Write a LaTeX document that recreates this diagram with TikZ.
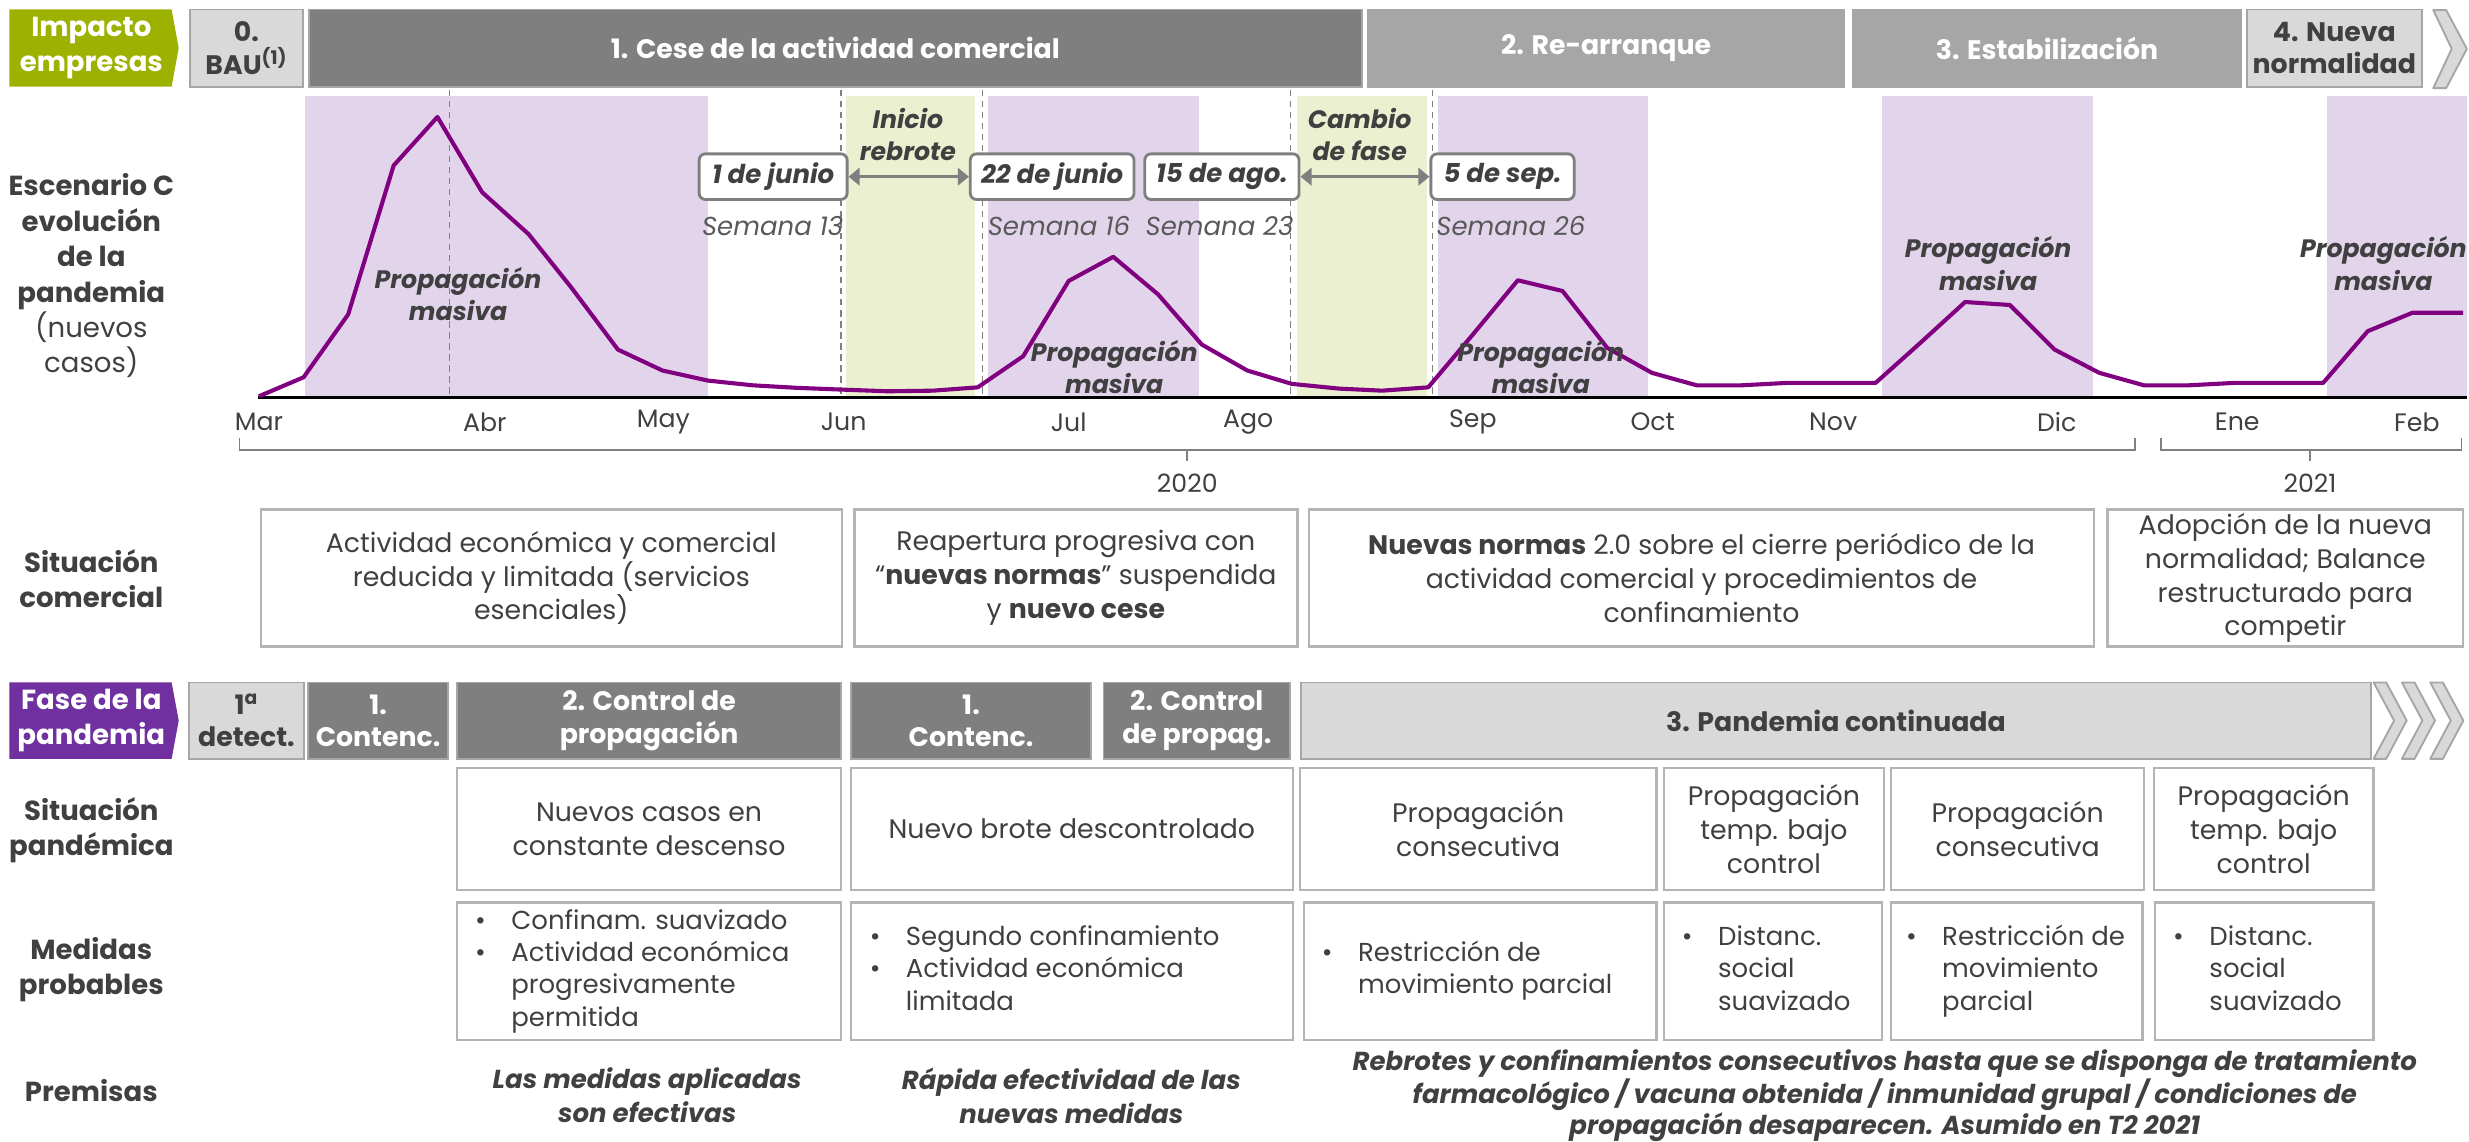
\documentclass[tikz,border=0pt]{standalone}
\usepackage{fontspec}
\setmainfont{Poppins}
\usetikzlibrary{arrows.meta}
\definecolor{dk}{HTML}{404040}
\definecolor{semc}{HTML}{595959}
\definecolor{bardk}{HTML}{7F7F7F}
\definecolor{barmd}{HTML}{A6A6A6}
\definecolor{barlt}{HTML}{D9D9D9}
\definecolor{bord}{HTML}{A6A6A6}
\definecolor{boxbord}{HTML}{B4B4B4}
\definecolor{olive}{HTML}{9DB200}
\definecolor{purlab}{HTML}{7030A0}
\definecolor{crvc}{HTML}{800080}
\definecolor{shpur}{HTML}{E2D5EB}
\definecolor{shgrn}{HTML}{EBF0D0}
\newcommand\bl{\makebox[23pt][l]{\textbullet}}
\begin{document}
\begin{tikzpicture}[x=1pt,y=-1pt,
  base/.style={font=\fontsize{17}{21.5}\selectfont, text=dk, inner sep=0pt, align=center},
  hd/.style={font=\bfseries\fontsize{17}{20.5}\selectfont, align=center, inner sep=0pt},
  bdk/.style={hd, fill=bardk, draw=bord, line width=1.2, text=white},
  bmd/.style={hd, fill=barmd, draw=barmd, line width=1.2, text=white},
  blt/.style={hd, fill=barlt, draw=bord, line width=1.2, text=dk},
  cbox/.style={base, draw=boxbord, line width=1.5, fill=white},
  lbl/.style={font=\bfseries\fontsize{17.5}{22.5}\selectfont, text=dk, align=center, inner sep=0pt},
  datebox/.style={draw=bardk, line width=1.8, rounded corners=4pt, fill=white, text=dk, font=\bfseries\itshape\fontsize{16.5}{18}\selectfont, inner sep=0pt},
  prop/.style={font=\bfseries\itshape\fontsize{16}{20.5}\selectfont, text=dk, align=center, inner sep=0pt},
  sem/.style={font=\itshape\fontsize{16.5}{18}\selectfont, text=semc, inner sep=0pt},
  mon/.style={font=\fontsize{16}{18}\selectfont, text=dk, inner sep=0pt},
  bul/.style={font=\fontsize{16.5}{20.5}\selectfont, text=dk, inner sep=0pt, anchor=west},
  dsh/.style={dash pattern=on 4pt off 3pt, draw=gray, line width=0.7},
  crv/.style={draw=crvc, line width=2.6, line join=round},
  dbl/.style={draw=bardk, line width=2, {Triangle[length=7pt,width=11pt]}-{Triangle[length=7pt,width=11pt]}},
  brk/.style={draw=gray, line width=1},
  chev/.style={fill=barlt, draw=bord, line width=1.2, line join=round}
]
\useasboundingbox (0,0) rectangle (1568,725);

% ---------- row 1: impacto empresas ----------
\fill[olive] (6,6) -- (109,6) -- (113.5,30.5) -- (109,55) -- (6,55) -- cycle;
\node[lbl, text=white] (imp) at (58,30.5) {Impacto\\empresas};
\node[blt, minimum width=72, minimum height=49] (bau) at (156.5,30.5) {0.\\BAU\textsuperscript{(1)}};
\node[bdk, minimum width=669, minimum height=49] (cese) at (530.5,30.5) {1. Cese de la actividad comercial};
\node[bmd, minimum width=302, minimum height=49] (rearr) at (1020,30.5) {2. Re-arranque};
\node[bmd, minimum width=246, minimum height=49] (estab) at (1300,30.5) {3. Estabilización};
\node[blt, minimum width=111, minimum height=49] (nueva) at (1482.5,30.5) {4. Nueva\\normalidad};
\draw[chev] (1545.3,6.4) -- (1553.5,6.4) -- (1566.6,31) -- (1553.5,56) -- (1545.3,56) -- (1557,31) -- cycle;

% ---------- chart ----------
\fill[shpur] (193.9,61.2) rectangle (449.6,252.3);
\fill[shgrn] (537.5,61.2) rectangle (619.2,252.3);
\fill[shpur] (627.7,61.2) rectangle (761.5,252.3);
\fill[shgrn] (823.9,61.2) rectangle (906.1,252.3);
\fill[shpur] (913.2,61.2) rectangle (1046.7,252.3);
\fill[shpur] (1195.4,61.2) rectangle (1329.4,252.3);
\fill[shpur] (1478.1,61.2) rectangle (1566.6,252.3);

\draw[dsh] (285.2,57) -- (285.2,252);
\draw[dsh] (534.1,57) -- (534.1,252);
\draw[dsh] (623.7,57) -- (623.7,252);
\draw[dsh] (819.3,57) -- (819.3,252);
\draw[dsh] (909.9,57) -- (909.9,252);

\draw[line width=1.8, black] (164,252.3) -- (1566.6,252.3);

\draw[crv] plot coordinates {(164.4,251.7) (192.8,239.6) (221.1,199.7) (250.0,105.1) (277.8,74.3) (306.2,122.1) (335.7,148.7) (362.9,182.7) (392.4,222.0) (420.7,235.3) (449.6,241.7) (478,244.7) (506,246.3) (534,247.4) (564,248.5) (592.5,248.1) (620.9,246) (649.8,226.2) (678.7,178.4) (707,163.1) (735.4,186.9) (763.2,218.8) (792.1,235.3) (820.4,243.8) (850.5,246.8) (877.7,248.1) (907,246) (935.4,212.4) (963.9,178) (992.3,184.8) (1020.7,220.9) (1049.1,236.8) (1077.5,244.7) (1105.9,244.7) (1134.3,243.2) (1162.7,243.2) (1191.1,243.2) (1219.6,217.7) (1248,191.8) (1276.4,193.7) (1304.8,222) (1333.2,236.8) (1361.6,244.7) (1390,244.7) (1418.4,243.2) (1446.8,243.2) (1475.3,243.2) (1503.7,210.3) (1532.1,198.6) (1564.3,198.6)};

\node[prop] (pm1) at (290.9,186.7) {Propagación\\masiva};
\node[prop] (pm2) at (707.6,233.1) {Propagación\\masiva};
\node[prop] (pm3) at (978.5,233.1) {Propagación\\masiva};
\node[prop] (pm4) at (1262.6,167.3) {Propagación\\masiva};
\node[prop] (pm5) at (1513.6,167.3) {Propagación\\masiva};

\node[prop] (inicio) at (576.6,85.5) {Inicio\\rebrote};
\node[prop] (cambio) at (863.5,85.5) {Cambio\\de fase};

\node[datebox, minimum width=94, minimum height=29] (d1) at (491,112.2) {1 de junio};
\node[datebox, minimum width=104, minimum height=29] (d22) at (668.2,112.2) {22 de junio};
\node[datebox, minimum width=98, minimum height=29] (d15) at (776,112.2) {15 de ago.};
\node[datebox, minimum width=91, minimum height=29] (d5) at (954.2,112.2) {5 de sep.};
\draw[dbl] (d1.east) -- (d22.west);
\draw[dbl] (d15.east) -- (d5.west);

\node[sem] (s13) at (490.7,143.4) {Semana 13};
\node[sem] (s16) at (672.5,143.4) {Semana 16};
\node[sem] (s23) at (774.5,143.4) {Semana 23};
\node[sem] (s26) at (959.5,143.4) {Semana 26};

\node[mon] (mmar) at (164.4,268) {Mar};
\node[mon] (mabr) at (307.9,268) {Abr};
\node[mon] (mmay) at (421.3,268) {May};
\node[mon] (mjun) at (535.8,268) {Jun};
\node[mon] (mjul) at (678.7,268) {Jul};
\node[mon] (mago) at (792.7,268) {Ago};
\node[mon] (msep) at (935.4,268) {Sep};
\node[mon] (moct) at (1049.6,268) {Oct};
\node[mon] (mnov) at (1164.2,268) {Nov};
\node[mon] (mdic) at (1306.2,268) {Dic};
\node[mon] (mene) at (1420.8,268) {Ene};
\node[mon] (mfeb) at (1534.9,268) {Feb};

\draw[brk] (152,278) -- (152,285.7) -- (1356,285.7) -- (1356,278);
\draw[brk] (754,285.7) -- (754,293);
\draw[brk] (1372.5,278) -- (1372.5,285.7) -- (1563.3,285.7) -- (1563.3,278);
\draw[brk] (1467,285.7) -- (1467,293);
\node[mon] (y20) at (754,307) {2020};
\node[mon] (y21) at (1467,307) {2021};

% ---------- left labels ----------
\node[lbl, font=\fontsize{17.5}{22.5}\selectfont] (esc) at (58,175.2) {\textbf{Escenario C}\\\textbf{evolución}\\\textbf{de la}\\\textbf{pandemia}\\(nuevos\\casos)};
\node[lbl] (lsc) at (58,367.4) {Situación\\comercial};
\fill[purlab] (6,433.4) -- (109,433.4) -- (113.5,457.6) -- (109,481.9) -- (6,481.9) -- cycle;
\node[lbl, text=white] (lfase) at (58,457.6) {Fase de la\\pandemia};
\node[lbl] (lsp) at (58,527.2) {Situación\\pandémica};
\node[lbl] (lmed) at (58,615.9) {Medidas\\probables};
\node[lbl] (lprem) at (58,692.3) {Premisas};

% ---------- situación comercial ----------
\node[cbox, minimum width=369, minimum height=87] (sc1) at (350.15,367.1) {Actividad económica y comercial\\reducida y limitada (servicios\\esenciales)};
\node[cbox, minimum width=281.3, minimum height=87] (sc2) at (683.25,367.1) {Reapertura progresiva con\\“\textbf{nuevas normas}” suspendida\\y \textbf{nuevo cese}};
\node[cbox, minimum width=498.6, minimum height=87] (sc3) at (1080.6,367.1) {\textbf{Nuevas normas} 2.0 sobre el cierre periódico de la\\actividad comercial y procedimientos de\\confinamiento};
\node[cbox, minimum width=225.9, minimum height=87] (sc4) at (1451.35,367.1) {Adopción de la nueva\\normalidad; Balance\\restructurado para\\competir};

% ---------- fase de la pandemia ----------
\node[blt, minimum width=72.6, minimum height=48.5] (det) at (156.5,457.65) {1\textsuperscript{a}\\detect.};
\node[bdk, minimum width=89, minimum height=48.5] (con1) at (240.1,457.65) {1.\\Contenc.};
\node[bdk, minimum width=243.8, minimum height=48.5] (ctl1) at (412.2,457.65) {2. Control de\\propagación};
\node[bdk, minimum width=152.5, minimum height=48.5] (con2) at (616.65,457.65) {1.\\Contenc.};
\node[bdk, minimum width=118.5, minimum height=48.5] (ctl2) at (760.05,457.65) {2. Control\\de propag.};
\node[blt, minimum width=680, minimum height=48.5] (pc) at (1166,457.65) {3. Pandemia continuada};
\foreach \x in {1507.4,1525.4,1543.4}{
  \draw[chev] (\x,433.4) -- (\x+8,433.4) -- (\x+21,457.6) -- (\x+8,481.9) -- (\x,481.9) -- (\x+13,457.6) -- cycle;
}

% ---------- situación pandémica ----------
\node[cbox, minimum width=243.8, minimum height=77.5] (sp1) at (412.2,526.55) {Nuevos casos en\\constante descenso};
\node[cbox, minimum width=280.6, minimum height=77.5] (sp2) at (680.7,526.55) {Nuevo brote descontrolado};
\node[cbox, minimum width=226.3, minimum height=77.5] (sp3) at (938.75,526.55) {Propagación\\consecutiva};
\node[cbox, minimum width=139.7, minimum height=77.5] (sp4) at (1126.55,526.55) {Propagación\\temp. bajo\\control};
\node[cbox, minimum width=160.5, minimum height=77.5] (sp5) at (1281.35,526.55) {Propagación\\consecutiva};
\node[cbox, minimum width=139.6, minimum height=77.5] (sp6) at (1437.6,526.55) {Propagación\\temp. bajo\\control};

% ---------- medidas probables ----------
\node[cbox, minimum width=243.8, minimum height=87.5] (m1) at (412.2,616.85) {};
\node[cbox, minimum width=280.6, minimum height=87.5] (m2) at (680.7,616.85) {};
\node[cbox, minimum width=224, minimum height=87.5] (m3) at (940,616.85) {};
\node[cbox, minimum width=138.3, minimum height=87.5] (m4) at (1125.85,616.85) {};
\node[cbox, minimum width=159.7, minimum height=87.5] (m5) at (1280.85,616.85) {};
\node[cbox, minimum width=138.7, minimum height=87.5] (m6) at (1438.05,616.85) {};
\node[bul] (m1t) at ([xshift=12pt]m1.west) {\begin{tabular}{@{}l@{}}\bl Confinam. suavizado\\\bl Actividad económica\\\hspace{23pt}progresivamente\\\hspace{23pt}permitida\end{tabular}};
\node[bul] (m2t) at ([xshift=12.5pt]m2.west) {\begin{tabular}{@{}l@{}}\bl Segundo confinamiento\\\bl Actividad económica\\\hspace{23pt}limitada\end{tabular}};
\node[bul] (m3t) at ([xshift=12pt]m3.west) {\begin{tabular}{@{}l@{}}\bl Restricción de\\\hspace{23pt}movimiento parcial\end{tabular}};
\node[bul] (m4t) at ([xshift=12pt]m4.west) {\begin{tabular}{@{}l@{}}\bl Distanc.\\\hspace{23pt}social\\\hspace{23pt}suavizado\end{tabular}};
\node[bul] (m5t) at ([xshift=10pt]m5.west) {\begin{tabular}{@{}l@{}}\bl Restricción de\\\hspace{23pt}movimiento\\\hspace{23pt}parcial\end{tabular}};
\node[bul] (m6t) at ([xshift=12pt]m6.west) {\begin{tabular}{@{}l@{}}\bl Distanc.\\\hspace{23pt}social\\\hspace{23pt}suavizado\end{tabular}};

% ---------- premisas ----------
\node[prop, font=\bfseries\itshape\fontsize{16.5}{21.5}\selectfont] (p1) at (411,695.7) {Las medidas aplicadas\\son efectivas};
\node[prop, font=\bfseries\itshape\fontsize{16.5}{21.5}\selectfont] (p2) at (680.4,695.7) {Rápida efectividad de las\\nuevas medidas};
\node[prop, font=\bfseries\itshape\fontsize{16.5}{19.8}\selectfont] (p3) at (1197,695.8) {Rebrotes y confinamientos consecutivos hasta que se disponga de tratamiento\\farmacológico / vacuna obtenida / inmunidad grupal / condiciones de\\propagación desaparecen. Asumido en T2 2021};
\end{tikzpicture}
\end{document}
